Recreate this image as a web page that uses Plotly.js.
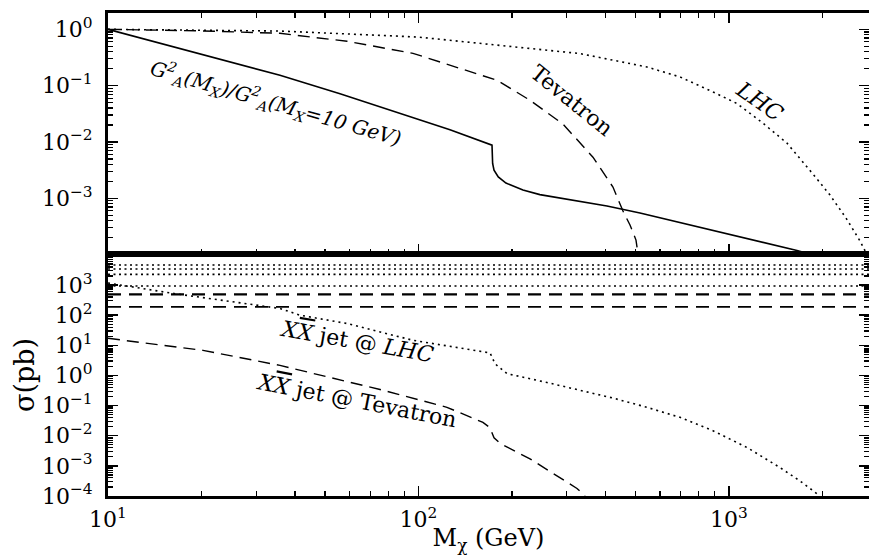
<!DOCTYPE html>
<html><head><meta charset="utf-8">
<script src="https://cdn.plot.ly/plotly-3.0.1.min.js"></script>
<style>body{margin:0;padding:0;background:#fff}</style>
</head><body><div id="chart" style="width:869px;height:555px"></div>
<script>
// ---------- Top panel: couplings / luminosity ratios ----------
const ratioM = [10, 14.71, 22.95, 35.8, 55.88, 87.2, 126.3, 172.5, 173.3, 175.1, 180.7, 191.3, 217, 246, 314.5, 404.7, 516.9, 806.4, 1168, 1656, 2113];
const ratioV = [1, 0.569, 0.2938, 0.1529, 0.0719, 0.0324, 0.0164, 0.00877, 0.00416, 0.00316, 0.0024, 0.00186, 0.0014, 0.00116, 0.00091, 0.00073, 0.000547, 0.000305, 0.000185, 0.000118, 0.000082];

const tevM = [10, 19.8, 35.8, 58.9, 96.0, 157.8, 178.9, 228.6, 292.1, 364.7, 423, 455.6, 480, 501.8, 509.3];
const tevV = [1, 0.94, 0.85, 0.613, 0.375, 0.159, 0.1247, 0.0551, 0.0207, 0.00537, 0.00158, 0.000593, 0.000335, 0.000181, 0.000103];

const lhcM = [10, 35.8, 99.6, 201.5, 331.3, 544.4, 695.5, 888.1, 1061, 1287, 1538, 1865, 2115, 2382, 2642, 2762];
const lhcV = [1, 0.933, 0.73, 0.4855, 0.371, 0.2146, 0.1426, 0.0773, 0.04816, 0.02154, 0.00952, 0.002686, 0.00114, 0.000446, 0.000175, 0.000108];

// ---------- Bottom panel: cross sections (pb) ----------
const lhcJetM = [10, 16.19, 35.8, 41.5, 58.9, 96.0, 170, 176.4, 192.8, 259.4, 423, 544.4, 695.5, 888.1, 1143, 1460, 1693, 1964];
const lhcJetV = [1166, 529, 167.3, 100, 52.9, 14.68, 5.6, 2.45, 1.15, 0.5843, 0.1778, 0.0878, 0.0407, 0.01468, 0.00407, 0.000878, 0.000316, 0.0001];

const tevJetM = [10, 20.23, 35.8, 75.2, 123.5, 161.3, 169.9, 175.1, 183, 228.6, 324, 343.8];
const tevJetV = [17.1, 6.81, 2.154, 0.3415, 0.0878, 0.02775, 0.01848, 0.00858, 0.00562, 0.00171, 0.000178, 0.0001];

const flatSpanM = [10, 2850];
const flatDotted = [4640, 3420, 2270, 926];
const flatDashed = [490, 189];

// ---------- Tick labels ----------
const xTickVals = [10, 100, 1000];
const xTickText = ['10<sup>1</sup>', '10<sup>2</sup>', '10<sup>3</sup>'];
const yTopTickVals = [1, 0.1, 0.01, 0.001];
const yTopTickText = ['10<sup>0</sup>', '10<sup>\u22121</sup>', '10<sup>\u22122</sup>', '10<sup>\u22123</sup>'];
const yBotTickVals = [1000, 100, 10, 1, 0.1, 0.01, 0.001, 0.0001];
const yBotTickText = ['10<sup>3</sup>', '10<sup>2</sup>', '10<sup>1</sup>', '10<sup>0</sup>', '10<sup>\u22121</sup>', '10<sup>\u22122</sup>', '10<sup>\u22123</sup>', '10<sup>\u22124</sup>'];

const traces = [];
function line(x, y, xa, ya, dash, w) {
  traces.push({x: x, y: y, xaxis: xa, yaxis: ya, type: 'scatter', mode: 'lines',
    line: {color: 'black', width: w, dash: dash}, hoverinfo: 'skip', cliponaxis: true});
}
line(ratioM, ratioV, 'x2', 'y2', 'solid', 1.6);
line(tevM, tevV, 'x2', 'y2', '12px,7px', 1.4);
line(lhcM, lhcV, 'x2', 'y2', '2px,4px', 1.6);

flatDotted.forEach(v => line(flatSpanM, [v, v], 'x', 'y', '2px,3.5px', 1.6));
flatDashed.forEach((v, i) => line(flatSpanM, [v, v], 'x', 'y', '13px,8px', i === 0 ? 2.4 : 1.6));
line(lhcJetM, lhcJetV, 'x', 'y', '2px,4px', 1.6);
line(tevJetM, tevJetV, 'x', 'y', '12px,7px', 1.4);

const axisCommon = {
  type: 'log', showline: true, linewidth: 3, linecolor: 'black', showgrid: false, zeroline: false,
  ticks: 'inside', ticklen: 10, tickwidth: 1.5, tickcolor: 'black', tickmode: 'array',
  minor: {ticks: 'inside', ticklen: 5, tickwidth: 1.2, tickcolor: 'black', dtick: 'D1', showgrid: false}
};
const xRange = [1, 3.451];

function px2paperX(px) { return (px - 108) / 761; }
function px2paperY(py) { return (496 - py) / 483; }

const annFont = {family: 'DejaVu Serif', size: 22, color: 'black'};
const ovX = '<span style="text-decoration:overline">X</span>';
const annotations = [
  {text: '<i>G<sup>2</sup><sub>A</sub>(M<sub>X</sub>)/G<sup>2</sup><sub>A</sub>(M<sub>X</sub>=10 GeV)</i>', x: px2paperX(276), y: px2paperY(103), textangle: 16, font: {family: 'DejaVu Serif', size: 20, color: 'black'}},
  {text: 'Tevatron', x: px2paperX(572), y: px2paperY(100), textangle: 39},
  {text: '<i>LHC</i>', x: px2paperX(760), y: px2paperY(101), textangle: 35},
  {text: '<i>X' + ovX + '</i> jet @ <i>LHC</i>', x: px2paperX(357), y: px2paperY(341), textangle: 10},
  {text: '<i>X' + ovX + '</i> jet @ Tevatron', x: px2paperX(356), y: px2paperY(400), textangle: 11}
].map(a => Object.assign({xref: 'paper', yref: 'paper', showarrow: false, xanchor: 'center', yanchor: 'middle', font: annFont}, a));

const layout = {
  width: 869, height: 555,
  margin: {l: 108, r: 0, t: 13, b: 59},
  paper_bgcolor: 'white', plot_bgcolor: 'white',
  showlegend: false,
  font: {family: 'DejaVu Serif', size: 22, color: 'black'},
  xaxis: Object.assign({}, axisCommon, {range: xRange, domain: [0, 1], anchor: 'y', mirror: true,
    tickvals: xTickVals, ticktext: xTickText, ticklabelstandoff: 2,
    title: {text: 'M<sub>\u03c7</sub> (GeV)', standoff: 0, font: {size: 24}}}),
  xaxis2: Object.assign({}, axisCommon, {range: xRange, domain: [0, 1], anchor: 'y2', mirror: 'ticks',
    tickvals: xTickVals, showticklabels: false}),
  yaxis: Object.assign({}, axisCommon, {range: [-4, 4.03], domain: [0, 0.501], anchor: 'x', mirror: 'ticks',
    tickvals: yBotTickVals, ticktext: yBotTickText, ticklabelstandoff: 8,
    title: {text: '\u03c3(pb)', standoff: 0, font: {size: 27}}}),
  yaxis2: Object.assign({}, axisCommon, {range: [-3.99, 0.29], domain: [0.501, 1], anchor: 'x2', mirror: 'ticks',
    tickvals: yTopTickVals, ticktext: yTopTickText, ticklabelstandoff: 8}),
  annotations: annotations
};

Plotly.newPlot('chart', traces, layout, {staticPlot: true, displayModeBar: false});
</script>
</body></html>
